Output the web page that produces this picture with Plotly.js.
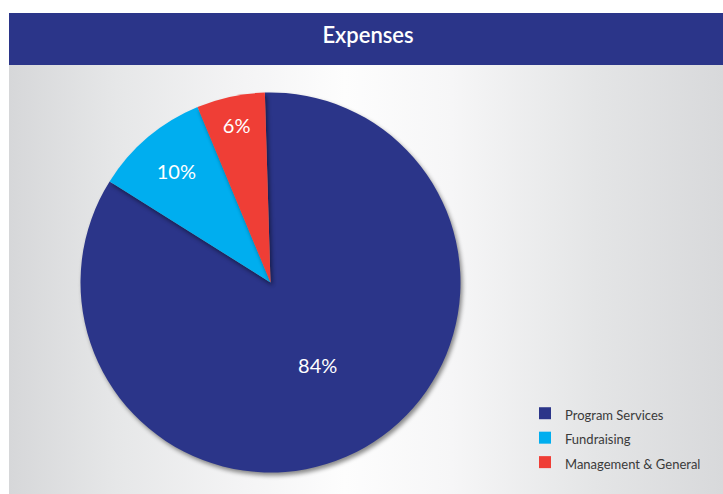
<!DOCTYPE html>
<html>
<head>
<meta charset="utf-8">
<script src="https://cdn.plot.ly/plotly-3.0.1.min.js"></script>
<style>
  html, body { margin: 0; padding: 0; background: #ffffff; }
  #wrap { position: relative; width: 723px; height: 494px; }
  #bg { position: absolute; left: 9px; top: 65px; width: 714px; height: 429px;
        background: linear-gradient(to right, #d6d7d9 0%, #e6e7e8 15%, #f4f4f5 33%, #fdfdfd 47%, #f6f6f7 62%, #e4e5e6 82%, #d8d9db 100%); }
  #chart { position: absolute; left: 0; top: 0; width: 723px; height: 494px; }
  .pielayer path.surface { filter: drop-shadow(2px 3px 2px rgba(0,0,0,0.45)); }
</style>
</head>
<body>
<div id="wrap">
  <div id="bg"></div>
  <div id="chart"></div>
</div>
<script>
const chartTitle = 'Expenses';
const categories = ['Program Services', 'Fundraising', 'Management & General'];
const values = [84.4, 9.8, 5.8];
const colors = ['#2b3589', '#00aeef', '#ef3e36'];

const trace = {
  type: 'pie',
  labels: categories.map(c => '<span style="font-size:13px">' + c + '</span>'),
  values: values,
  sort: false,
  direction: 'clockwise',
  rotation: -1.7,
  marker: { colors: colors, line: { width: 0 } },
  texttemplate: '%{percent:.0%}',
  textposition: 'inside',
  insidetextorientation: 'horizontal',
  textfont: { family: 'Lato', size: 20, color: '#ffffff' },
  hoverinfo: 'label+percent',
  domain: { x: [80.5 / 723, 460.5 / 723], y: [21.5 / 494, 401.5 / 494] }
};

const layout = {
  width: 723,
  height: 494,
  margin: { l: 0, r: 0, t: 0, b: 0 },
  paper_bgcolor: 'rgba(0,0,0,0)',
  plot_bgcolor: 'rgba(0,0,0,0)',
  title: {
    text: chartTitle,
    font: { family: 'Lato', size: 22, color: '#ffffff', weight: 600 },
    x: 368 / 723, xanchor: 'center',
    y: 1 - 35 / 494, yanchor: 'middle', yref: 'paper'
  },
  shapes: [{
    type: 'rect', xref: 'paper', yref: 'paper',
    x0: 9 / 723, x1: 1, y0: 1 - 65 / 494, y1: 1 - 13 / 494,
    fillcolor: '#2b3589', line: { width: 0 }, layer: 'below'
  }],
  showlegend: true,
  legend: {
    x: 525 / 723, xanchor: 'left',
    y: 1 - 396 / 494, yanchor: 'top',
    font: { family: 'Lato', size: 16.5, color: '#3a3a3a' },
    bgcolor: 'rgba(0,0,0,0)',
    traceorder: 'normal'
  }
};

Plotly.newPlot('chart', [trace], layout, { displayModeBar: false, staticPlot: true });
</script>
</body>
</html>
